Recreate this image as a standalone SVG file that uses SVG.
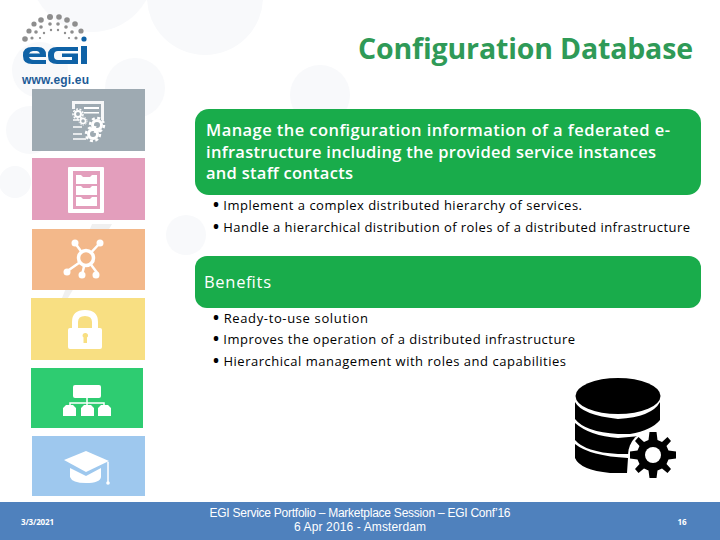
<svg xmlns="http://www.w3.org/2000/svg" width="720" height="540" viewBox="0 0 720 540">
<style>
text{font-family:"Open Sans","Noto Sans","Liberation Sans",sans-serif}
.bg{fill:#f8f9fb}
.g{fill:#19ac4b}
.b{font-size:16.5px;font-weight:600;fill:#fff}
.l{font-size:13px;fill:#000}
.bu{font-size:16px;font-weight:700}
.w{fill:#fff}
.dot{fill:#8e8e8e}
.f{font-family:"Liberation Sans",sans-serif;font-size:12px;fill:#fff}
.t{fill:none;stroke:#fff}
</style>
<rect width="720" height="540" fill="#fff"/>
<g id="background">
<circle class="bg" cx="92" cy="-30" r="62"/><circle class="bg" cx="205" cy="-3" r="58"/><circle class="bg" cx="135" cy="88" r="30"/><circle class="bg" cx="40" cy="70" r="28"/><circle class="bg" cx="30" cy="130" r="24"/><circle class="bg" cx="186" cy="235" r="20"/><circle class="bg" cx="15" cy="182" r="16"/><circle class="bg" cx="320" cy="95" r="30"/>
<path d="M68 298L112 224L92 224L62 298Z" fill="#f0f0f0"/>
</g>
<g id="logo">
<g class="dot"><circle cx="50" cy="17" r="3"/><circle cx="59" cy="17" r="2.800"/><circle cx="41" cy="20" r="2.800"/><circle cx="67" cy="20" r="2.800"/><circle cx="34" cy="24" r="2.600"/><circle cx="75" cy="24" r="2.800"/><circle cx="29" cy="31" r="2.600"/><circle cx="81" cy="31" r="2.600"/><circle cx="25" cy="39" r="2.800"/><circle cx="41" cy="27" r="1.800"/><circle cx="50" cy="24" r="1.800"/><circle cx="58" cy="24" r="1.800"/><circle cx="66" cy="27" r="1.800"/><circle cx="36" cy="32" r="1.800"/><circle cx="72" cy="32" r="1.800"/><circle cx="32" cy="38" r="1.600"/><circle cx="76" cy="38" r="1.600"/><circle cx="44" cy="33" r="1.200"/><circle cx="51" cy="30" r="1.200"/><circle cx="58" cy="30" r="1.200"/><circle cx="65" cy="33" r="1.200"/><circle cx="40" cy="38" r="1.100"/><circle cx="69" cy="38" r="1.100"/></g>
<circle cx="84" cy="39" r="2.600" fill="#0f62a6"/>
<path d="M23 55Q23 47 32 47H38Q46 47 46 55V57H29Q30 60 34 60H46V64H32Q23 64 23 56ZM29 53.500H40Q39 51 37 51H33Q30 51 29 53.500Z" fill="#0f62a6" fill-rule="evenodd"/>
<path d="M48 55Q48 47 57 47H78V51H58Q54 51 54 55V56Q54 60 58 60H72V57H62V53.500H78V64H57Q48 64 48 56Z" fill="#0f62a6"/>
<rect x="81" y="46" width="6" height="18" fill="#0f62a6"/>
<text x="22" y="84" font-size="12" font-weight="700" fill="#1d5b97" textLength="67" style="font-family:'Liberation Sans',sans-serif">www.egi.eu</text>
</g>
<g id="tile-config">
<rect x="32" y="89" width="113" height="62" fill="#9eaab2"/>
<path d="M72 101H104V120H101V104H75V109H72Z" class="w" opacity=".9"/>
<rect x="84" y="107" width="15" height="2" class="w"/><rect x="84" y="112" width="15" height="1.500" class="w"/>
<circle cx="78" cy="114" r="3" class="t" stroke-width="2"/><circle cx="78" cy="114" r="5" class="t" stroke-width="1.500" stroke-dasharray="2 1.500"/>
<circle cx="83" cy="121" r="2.500" class="t" stroke-width="1.500"/><circle cx="83" cy="121" r="4" class="t" stroke-width="1" stroke-dasharray="1.500 1"/>
<circle cx="97" cy="125" r="4.500" class="t" stroke-width="3"/><circle cx="97" cy="125" r="7" class="t" stroke-width="2.500" stroke-dasharray="3 2.500"/>
<circle cx="93" cy="134" r="4.500" class="t" stroke-width="3"/><circle cx="93" cy="134" r="7" class="t" stroke-width="2.500" stroke-dasharray="3 2.500"/>
<g fill="#fff" opacity=".75"><rect x="73" y="119" width="6" height="2"/><rect x="73" y="126" width="9" height="2"/><rect x="73" y="133" width="9" height="2"/><rect x="73" y="138" width="13" height="2"/></g>
</g>
<g id="tile-drawers">
<rect x="32" y="158" width="113" height="62" fill="#e39ebc"/>
<rect x="68" y="167" width="36" height="46" rx="1" class="w"/>
<rect x="73" y="171" width="27" height="38" fill="#e39ebc"/>
<rect x="76" y="175" width="21" height="9" class="w"/><rect x="76" y="186" width="21" height="9" class="w"/><rect x="76" y="197" width="21" height="9" class="w"/>
<g fill="#e39ebc"><path d="M81 175H92L90 177H83ZM81 186H92L90 188H83ZM81 197H92L90 199H83Z"/></g>
</g>
<g id="tile-network">
<rect x="32" y="229" width="113" height="61" fill="#f3b88a"/>
<path d="M75 243L86 258L100 243M86 258L66 272M86 258L82 275M86 258L98 274" stroke="#fff" stroke-width="2.500" fill="none"/>
<circle cx="86" cy="258" r="7.500" fill="#f3b88a" stroke="#fff" stroke-width="3.500"/>
<g class="w"><circle cx="75" cy="243" r="3.500"/><circle cx="100" cy="243" r="3.500"/><circle cx="67" cy="272" r="3.500"/><circle cx="82" cy="275" r="3.500"/><circle cx="96" cy="275" r="3.500"/></g>
</g>
<g id="tile-lock">
<rect x="31" y="298" width="114" height="62" fill="#f8df82"/>
<path d="M72 329V322Q72 310 85 310Q98 310 98 322V329H92V322Q92 316 85 316Q78 316 78 322V329Z" class="w"/>
<rect x="68" y="328" width="34" height="21" rx="2" class="w"/>
<path d="M85 333a2.500 2.500 0 0 1 2 4.500V343H83.500V337.500a2.500 2.500 0 0 1 1.500-4.500Z" fill="#f8df82"/>
</g>
<g id="tile-hierarchy">
<rect x="31" y="368" width="112" height="60" fill="#2ecc71"/>
<rect x="73" y="385" width="28" height="13" rx="2" class="w"/>
<path d="M87 398V403H70V406M87 403H104V406M87 403V406" stroke="#fff" stroke-width="1.500" fill="none"/>
<path d="M63 408l3-3h7l3 3v8H63ZM81 408l3-3h7l3 3v8H81ZM98 408l3-3h7l3 3v8H98Z" class="w"/>
</g>
<g id="tile-education">
<rect x="32" y="436" width="113" height="60" fill="#9ec8ee"/>
<path d="M64 460L86 451L109 461L86 472Z" class="w"/>
<path d="M70 468V477Q72 483 86 483Q100 483 101 477V468L86 476Z" class="w"/>
<path d="M108 462V482" stroke="#fff" stroke-width="1.500"/><circle cx="108" cy="483" r="1.800" class="w"/>
</g>
<g id="title"><text x="358" y="59" font-size="28.500" font-weight="700" fill="#2f9a57" textLength="335">Configuration Database</text></g>
<g id="box-main">
<rect x="195" y="109" width="506" height="86" rx="14" class="g"/>
<text class="b" x="206" y="136" textLength="464">Manage the configuration information of a federated e-</text>
<text class="b" x="206" y="158" textLength="450">infrastructure including the provided service instances</text>
<text class="b" x="206" y="179" textLength="147">and staff contacts</text>
</g>
<g id="list-1">
<text class="l" x="213" y="210" textLength="369"><tspan class="bu">•</tspan> Implement a complex distributed hierarchy of services.</text>
<text class="l" x="213" y="232" textLength="477"><tspan class="bu">•</tspan> Handle a hierarchical distribution of roles of a distributed infrastructure</text>
</g>
<g id="box-benefits">
<rect x="195" y="256" width="506" height="52" rx="12" class="g"/>
<text x="204" y="288" font-size="16.500" fill="#fff" textLength="67">Benefits</text>
</g>
<g id="list-2">
<text class="l" x="213" y="323" textLength="155"><tspan class="bu">•</tspan> Ready-to-use solution</text>
<text class="l" x="213" y="344" textLength="362"><tspan class="bu">•</tspan> Improves the operation of a distributed infrastructure</text>
<text class="l" x="213" y="366" textLength="353"><tspan class="bu">•</tspan> Hierarchical management with roles and capabilities</text>
</g>
<g id="database-icon">
<ellipse cx="618" cy="396" rx="42.500" ry="18"/>
<path d="M575 402Q582 415 618 419Q652 417 660 402V420Q652 430 630 434H618Q585 432 575 419Z"/>
<path d="M575 423Q590 436 618 438L640 436L630 454H618Q585 452 575 440Z"/>
<path d="M575 444Q590 456 628 458L627 473H610Q580 470 575 458Z"/>
<g transform="translate(653 455)">
<circle r="25" fill="#fff"/>
<path d="M-3.500-23H3.500L4.500-15L9-13L14.500-18L18-14L13.500-9L15.500-4.500L23-3.500V3.500L15.500 4.500L13.500 9L18 14L14.500 18L9 13.500L4.500 15.500L3.500 23H-3.500L-4.500 15.500L-9 13.500L-14.500 18L-18 14L-13.500 9L-15.500 4.500L-23 3.500V-3.500L-15.500-4.500L-13.500-9L-18-14L-14.500-18L-9-13L-4.500-15Z"/>
<circle r="8" fill="#fff"/>
</g>
</g>
<g id="footer">
<rect y="502" width="720" height="38" fill="#4f81bd"/>
<text x="21" y="525" font-size="8" font-weight="700" fill="#fff" textLength="33">3/3/2021</text>
<text class="f" x="360" y="517" text-anchor="middle" textLength="301">EGI Service Portfolio – Marketplace Session – EGI Conf’16</text>
<text class="f" x="360" y="531" text-anchor="middle" textLength="132">6 Apr 2016 - Amsterdam</text>
<text x="682" y="525" font-size="8" font-weight="700" fill="#fff" text-anchor="middle">16</text>
</g>
</svg>
